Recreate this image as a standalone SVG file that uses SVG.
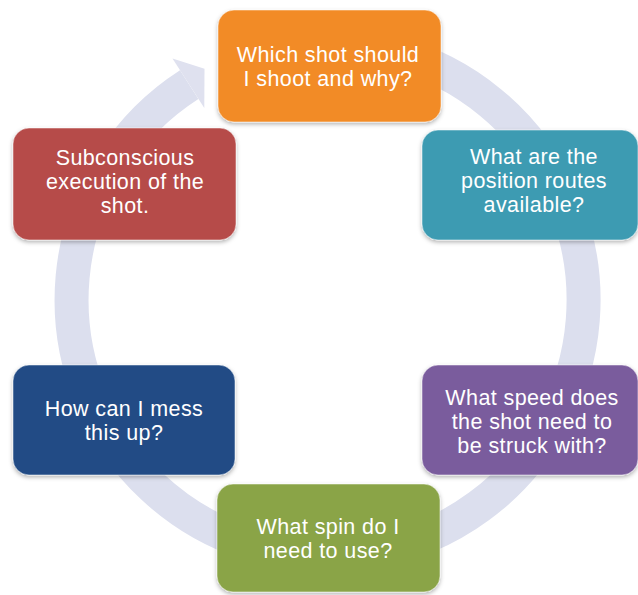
<svg xmlns="http://www.w3.org/2000/svg" width="638" height="595" viewBox="0 0 638 595">
  <defs>
    <filter id="sh" x="-10%" y="-10%" width="120%" height="125%">
      <feDropShadow dx="0" dy="2" stdDeviation="2" flood-color="#000000" flood-opacity="0.3"/>
    </filter>
    <style>
      .box { stroke: #ffffff; stroke-opacity: 0.5; stroke-width: 1; filter: url(#sh); }
      .lbl { font-family: "Liberation Sans", Arial, sans-serif; font-size: 21.5px; letter-spacing: 0.4px; fill: #ffffff; text-anchor: middle; }
      .ring { fill: none; stroke: #dcdfee; stroke-width: 34; }
      .head { fill: #dfe1ef; }
    </style>
  </defs>
  <rect width="638" height="595" fill="#ffffff"/>
  <g id="connectors">
    <path class="ring" d="M 393.8 52.7 A 256 256 0 1 1 189.2 84.6"/>
    <polygon class="head" points="172.5,58.5 204.5,68.7 204.3,108.1"/>
  </g>
  <g id="node-which-shot">
    <rect class="box" x="218" y="10" width="223" height="112" rx="16" fill="#f28b26"/>
    <text class="lbl" x="328" y="62">Which shot should</text>
    <text class="lbl" x="328" y="86">I shoot and why?</text>
  </g>
  <g id="node-position-routes">
    <rect class="box" x="422" y="130" width="216" height="110" rx="16" fill="#3c9bb2"/>
    <text class="lbl" x="534" y="164">What are the</text>
    <text class="lbl" x="534" y="188">position routes</text>
    <text class="lbl" x="534" y="212">available?</text>
  </g>
  <g id="node-speed">
    <rect class="box" x="422" y="365" width="216" height="110" rx="16" fill="#7a5b9d"/>
    <text class="lbl" x="532" y="405">What speed does</text>
    <text class="lbl" x="532" y="429">the shot need to</text>
    <text class="lbl" x="532" y="453">be struck with?</text>
  </g>
  <g id="node-spin">
    <rect class="box" x="217" y="484" width="223" height="108" rx="16" fill="#8aa446"/>
    <text class="lbl" x="328" y="534">What spin do I</text>
    <text class="lbl" x="328" y="558">need to use?</text>
  </g>
  <g id="node-mess-up">
    <rect class="box" x="13" y="365" width="222" height="110" rx="16" fill="#204b85"/>
    <text class="lbl" x="124" y="416">How can I mess</text>
    <text class="lbl" x="124" y="440">this up?</text>
  </g>
  <g id="node-subconscious">
    <rect class="box" x="13" y="128" width="223" height="112" rx="16" fill="#b64b49"/>
    <text class="lbl" x="125" y="165">Subconscious</text>
    <text class="lbl" x="125" y="189">execution of the</text>
    <text class="lbl" x="125" y="213">shot.</text>
  </g>
</svg>
